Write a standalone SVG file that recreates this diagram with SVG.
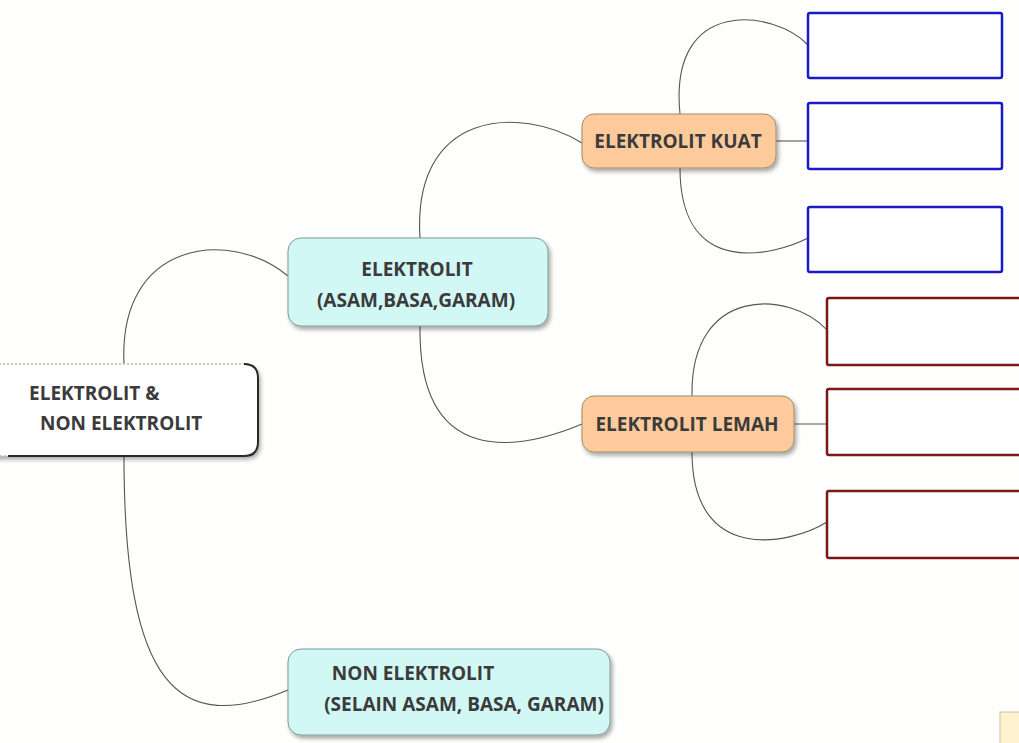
<svg xmlns="http://www.w3.org/2000/svg" width="1019" height="743" viewBox="0 0 1019 743">
<style>
.conn{fill:none;stroke:#555;stroke-width:1.1}
.t{font-family:"Open Sans","Liberation Sans",sans-serif;font-weight:bold;fill:#3b3b3b;font-size:19px}
.cyan{fill:#d2f8f6;stroke:#7d9a9a;stroke-width:1}
.peach{fill:#fdcb9b;stroke:#a88866;stroke-width:1}
.blue{fill:#fff;stroke:#1b1bc6;stroke-width:2.5}
.red{fill:#fff;stroke:#7d1616;stroke-width:2.5}
</style>
<defs>
<filter id="sh" x="-10%" y="-20%" width="130%" height="150%">
<feDropShadow dx="2" dy="3" stdDeviation="2" flood-color="#000" flood-opacity="0.35"/>
</filter>
</defs>
<rect width="1019" height="743" fill="#fefefc"/>
<g id="connectors">
<path class="conn" d="M124,364 C118,240 230,228 288,276"/>
<path class="conn" d="M124,456 C124,690 180,735 288,690"/>
<path class="conn" d="M420,238 C412,110 520,105 582,143"/>
<path class="conn" d="M420,326 C418,470 520,450 582,424"/>
<path class="conn" d="M776,141 L808,141"/>
<path class="conn" d="M680,114 C668,-5 775,10 808,45"/>
<path class="conn" d="M680,168 C680,280 775,255 808,238"/>
<path class="conn" d="M794,424 L827,424"/>
<path class="conn" d="M692,396 C690,285 790,290 827,330"/>
<path class="conn" d="M692,452 C692,565 790,545 827,522"/>
</g>
<g id="root">
<path d="M-5,364 H244 Q258,364 258,378 V442 Q258,456 244,456 H-5 Z" fill="#fff" stroke="#bbb" stroke-width="1.5" stroke-dasharray="2,2" filter="url(#sh)"/>
<path d="M244,364 Q258,364 258,378 V442 Q258,456 244,456 H8" fill="none" stroke="#2a2a2a" stroke-width="2"/>
<text class="t" x="29" y="400">ELEKTROLIT &amp;</text>
<text class="t" x="40" y="430">NON ELEKTROLIT</text>
</g>
<g id="elektrolit">
<rect class="cyan" x="288" y="238" width="260" height="88" rx="13" filter="url(#sh)"/>
<text class="t" x="417" y="276" text-anchor="middle">ELEKTROLIT</text>
<text class="t" x="416" y="307" text-anchor="middle">(ASAM,BASA,GARAM)</text>
</g>
<g id="non-elektrolit">
<rect class="cyan" x="288" y="649" width="322" height="86" rx="13" filter="url(#sh)"/>
<text class="t" x="413" y="680" text-anchor="middle">NON ELEKTROLIT</text>
<text class="t" x="464" y="711" text-anchor="middle">(SELAIN ASAM, BASA, GARAM)</text>
</g>
<g id="kuat">
<rect class="peach" x="582" y="114" width="194" height="54" rx="12" filter="url(#sh)"/>
<text class="t" x="678" y="148" text-anchor="middle">ELEKTROLIT KUAT</text>
</g>
<g id="lemah">
<rect class="peach" x="582" y="396" width="212" height="56" rx="12" filter="url(#sh)"/>
<text class="t" x="687" y="431" text-anchor="middle">ELEKTROLIT LEMAH</text>
</g>
<g id="kuat-1"><rect class="blue" x="808" y="13" width="194" height="65" rx="2"/></g>
<g id="kuat-2"><rect class="blue" x="808" y="103" width="194" height="66" rx="2"/></g>
<g id="kuat-3"><rect class="blue" x="808" y="207" width="194" height="65" rx="2"/></g>
<g id="lemah-1"><rect class="red" x="827" y="298" width="200" height="67" rx="2"/></g>
<g id="lemah-2"><rect class="red" x="827" y="389" width="200" height="66" rx="2"/></g>
<g id="lemah-3"><rect class="red" x="827" y="491" width="200" height="67" rx="2"/></g>
<g id="corner">
<rect x="1000" y="712" width="30" height="40" fill="#fff3cf" stroke="#c9c2a8" stroke-width="1"/>
</g>
</svg>
